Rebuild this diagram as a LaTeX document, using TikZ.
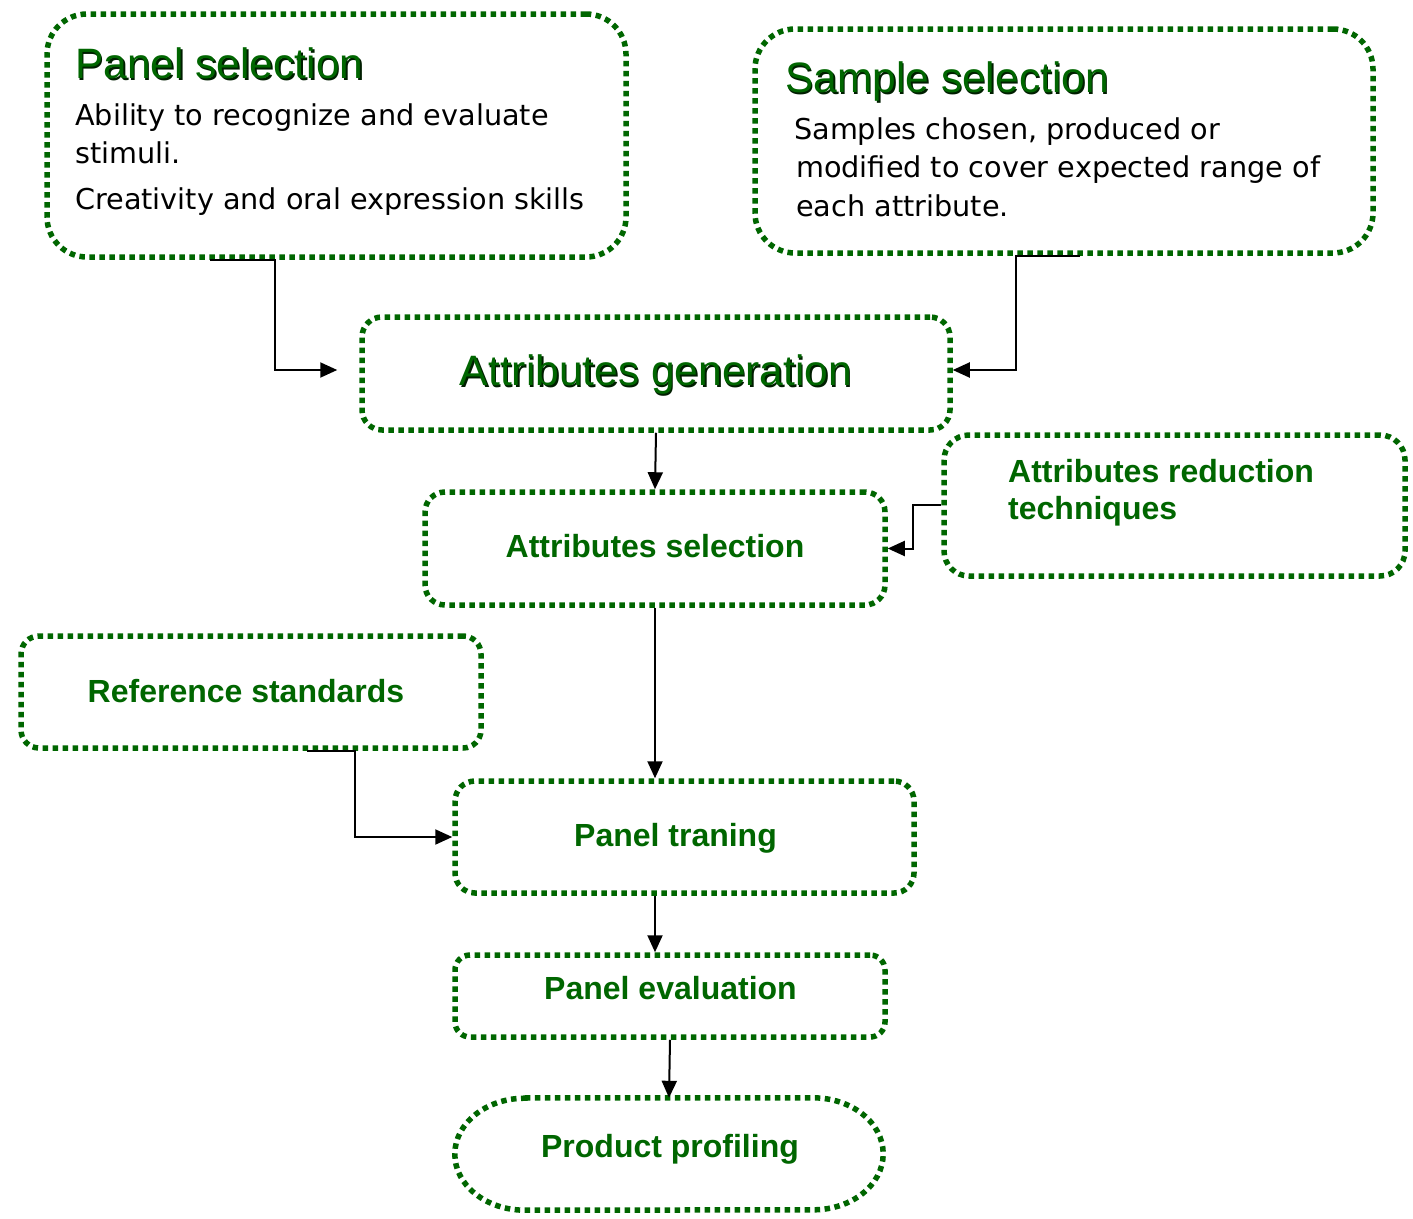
\documentclass[tikz,border=0pt]{standalone}
\usepackage{fontspec}
\setmainfont{Liberation Sans}
\newfontfamily\bodyfont{DejaVu Sans}
\usetikzlibrary{arrows.meta,calc}
\definecolor{gdark}{RGB}{0,102,0}
\definecolor{gshadow}{RGB}{0,30,0}
\newcommand\shadowed[1]{\makebox[0pt][l]{\hspace{1.6pt}\raisebox{-2pt}{\color{gshadow}#1}}#1}
\tikzset{
  gline/.style={draw=gdark, line width=5.5pt, dash pattern=on 5.5pt off 4.5pt},
  gbox/.style={gline, rectangle, inner sep=0pt},
  arr/.style={draw=black, line width=2pt, -{Triangle[length=17pt,width=15pt]}},
  titletxt/.style={text=gdark, font=\fontsize{42.5}{48}\selectfont, inner sep=0pt},
  bodytxt/.style={text=black, font=\bodyfont\fontsize{28.7}{34}\selectfont, inner sep=0pt, anchor=base west},
  boldtxt/.style={text=gdark, font=\bfseries\fontsize{32}{38}\selectfont, inner sep=0pt, anchor=base},
}
\begin{document}
\begin{tikzpicture}[x=1pt,y=-1pt]
\useasboundingbox[fill=white] (0,0) rectangle (1413,1218);

% boxes
\node[gbox, rounded corners=40pt, minimum width=579pt, minimum height=243pt] (ps) at (336.5,135.5) {};
\node[gbox, rounded corners=40pt, minimum width=618pt, minimum height=224pt] (ss) at (1064,141) {};
\node[gbox, rounded corners=20pt, minimum width=588pt, minimum height=113pt] (ag) at (656,373.5) {};
\node[gbox, rounded corners=20pt, minimum width=460pt, minimum height=113pt] (asel) at (655,548.5) {};
\node[gbox, rounded corners=25pt, minimum width=461pt, minimum height=141pt] (art) at (1174.5,505.5) {};
\node[gbox, rounded corners=18pt, minimum width=460pt, minimum height=112pt] (rs) at (251,692) {};
\node[gbox, rounded corners=20pt, minimum width=459pt, minimum height=112pt] (pt) at (684.5,837) {};
\node[gbox, rounded corners=15pt, minimum width=430pt, minimum height=82pt] (pe) at (670,996) {};
\node[rectangle, inner sep=0pt, minimum width=428pt, minimum height=112pt] (pp) at (669,1154) {};
\draw[gline] ([xshift=70pt]pp.north west) -- ([xshift=-70pt]pp.north east)
  arc[start angle=90, end angle=-90, x radius=70pt, y radius=56pt]
  -- ([xshift=70pt]pp.south west)
  arc[start angle=270, end angle=90, x radius=70pt, y radius=56pt] -- cycle;

% texts
\node[titletxt, anchor=base west] (pst) at (75,78) {\shadowed{Panel selection}};
\node[bodytxt] (psb1) at (75,125) {Ability to recognize and evaluate};
\node[bodytxt] (psb2) at (75,163) {stimuli.};
\node[bodytxt] (psb3) at (75,209) {Creativity and oral expression skills};

\node[titletxt, anchor=base west] (sst) at (785,92) {\shadowed{Sample selection}};
\node[bodytxt] (ssb1) at (794,139) {Samples chosen, produced or};
\node[bodytxt] (ssb2) at (796,177) {modified to cover expected range of};
\node[bodytxt] (ssb3) at (796,216) {each attribute.};

\node[titletxt, anchor=base] (agt) at (656,385) {\shadowed{Attributes generation}};
\node[boldtxt] (aselt) at (655,557) {Attributes selection};
\node[boldtxt, anchor=base west] (artt1) at (1008,482) {Attributes reduction};
\node[boldtxt, anchor=base west] (artt2) at (1008,519) {techniques};
\node[boldtxt] (rst) at (246,702) {Reference standards};
\node[boldtxt] (ptt) at (675.5,846) {Panel traning};
\node[boldtxt] (pet) at (670.5,999) {Panel evaluation};
\node[boldtxt] (ppt) at (670,1157) {Product profiling};

% connectors
\draw[arr] ($(ps.south)+(-126.5,0)$) -- ++(65,0) |- ([xshift=-22pt,yshift=3.5pt]ag.west);
\draw[arr] ($(ss.south)+(16,0)$) -- ++(-64,0) |- ([yshift=3.5pt]ag.east);
\draw[arr] (ag.south) -- (asel.north);
\draw[arr] ([yshift=0.5pt]art.west) -- ++(-28,0) |- (asel.east);
\draw[arr] (asel.south) -- (asel.south |- pt.north);
\draw[arr] ($(rs.south)+(56,0)$) -- ++(48,0) |- (pt.west);
\draw[arr] (asel.south |- pt.south) -- (asel.south |- pe.north);
\draw[arr] (pe.south) -- (pp.north);
\end{tikzpicture}
\end{document}
